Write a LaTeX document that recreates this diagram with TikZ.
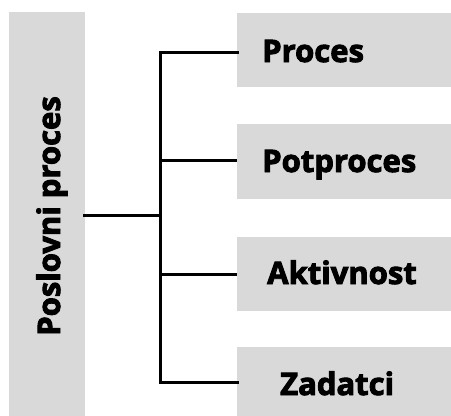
\documentclass[tikz,border=0pt]{standalone}
\usepackage{fontspec}
\setmainfont{Open Sans}[BoldFont={* Bold},BoldFeatures={FakeBold=3}]
\definecolor{boxgray}{HTML}{D9D9D9}
\tikzset{
  label/.style={font=\fontsize{31}{34}\selectfont\bfseries, inner sep=0pt, anchor=base west},
  link/.style={line width=3pt, draw=black}
}
\begin{document}
\begin{tikzpicture}[x=1pt,y=-1pt]
  \useasboundingbox (0,0) rectangle (451,416);
  % grey panels
  \fill[boxgray] (9,12) rectangle (85,416);
  \fill[boxgray] (237,13) rectangle (451,87);
  \fill[boxgray] (237,124) rectangle (451,199);
  \fill[boxgray] (237,237) rectangle (451,311);
  \fill[boxgray] (237,347) rectangle (451,416);
  % labels
  \node[label, rotate=90, anchor=base] (root) at (60,216) {Poslovni proces};
  \node[label] (p1) at (262,62) {Proces};
  \node[label] (p2) at (262,172) {Potproces};
  \node[label] (p3) at (267,284) {Aktivnost};
  \node[label] (p4) at (280,395) {Zadatci};
  % connectors
  \coordinate (r) at (83,215);
  \coordinate (j) at (160,215);
  \coordinate (t) at (160,52);
  \coordinate (b) at (160,382);
  \coordinate (j2) at (160,160);
  \coordinate (j3) at (160,274);
  \coordinate (e1) at (237,52);
  \coordinate (e2) at (237,160);
  \coordinate (e3) at (237,274);
  \coordinate (e4) at (237,382);
  \draw[link] (r) -- (j);
  \draw[link, line cap=rect] (e1) -- (t) -- (b) -- (e4);
  \draw[link] (j2) -- (e2);
  \draw[link] (j3) -- (e3);
\end{tikzpicture}
\end{document}
